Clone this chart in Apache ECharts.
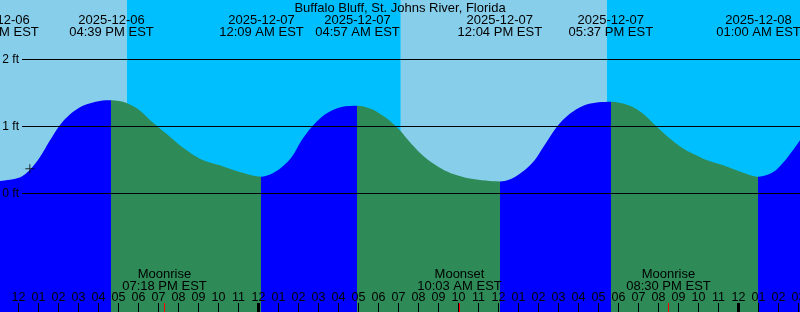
<!DOCTYPE html>
<html><head><meta charset="utf-8">
<script src="https://cdn.jsdelivr.net/npm/echarts@6/dist/echarts.min.js"></script>
<style>html,body{margin:0;padding:0;background:#fff}#c{width:800px;height:312px}</style>
</head><body><div id="c"></div>
<script>
const chartTitle = 'Buffalo Bluff, St. Johns River, Florida';

const tideTimes = [
  '2025-12-06 10:54','2025-12-06 12:04','2025-12-06 12:34','2025-12-06 13:04','2025-12-06 13:34',
  '2025-12-06 14:04','2025-12-06 14:34','2025-12-06 15:13','2025-12-06 16:04','2025-12-06 16:39',
  '2025-12-06 17:24','2025-12-06 18:04','2025-12-06 18:43','2025-12-06 19:24','2025-12-06 20:04',
  '2025-12-06 21:04','2025-12-06 22:04','2025-12-06 23:04','2025-12-07 00:09','2025-12-07 00:59',
  '2025-12-07 01:39','2025-12-07 02:09','2025-12-07 02:39','2025-12-07 03:19','2025-12-07 04:09',
  '2025-12-07 04:57','2025-12-07 05:39','2025-12-07 06:19','2025-12-07 06:59','2025-12-07 07:39',
  '2025-12-07 08:19','2025-12-07 08:59','2025-12-07 09:39','2025-12-07 10:39','2025-12-07 12:04',
  '2025-12-07 12:39','2025-12-07 13:19','2025-12-07 13:49','2025-12-07 14:14','2025-12-07 14:54',
  '2025-12-07 15:34','2025-12-07 16:24','2025-12-07 17:37','2025-12-07 18:34','2025-12-07 19:14',
  '2025-12-07 19:54','2025-12-07 20:34','2025-12-07 21:14','2025-12-07 22:14','2025-12-07 23:14',
  '2025-12-08 00:14','2025-12-08 01:00','2025-12-08 01:44','2025-12-08 02:24','2025-12-08 03:04',
  '2025-12-08 03:34'
];
const tideFeet = [
  0.18,0.24,0.35,0.54,0.79,
  1.02,1.18,1.31,1.38,1.39,
  1.35,1.24,1.06,0.89,0.72,
  0.52,0.42,0.32,0.25,0.35,
  0.54,0.79,0.99,1.18,1.29,
  1.31,1.26,1.14,0.97,0.74,
  0.54,0.40,0.30,0.22,0.18,
  0.22,0.35,0.50,0.69,0.99,
  1.19,1.33,1.37,1.31,1.19,
  1.00,0.82,0.67,0.52,0.42,
  0.31,0.25,0.32,0.52,0.79,
  1.00
];

// High / low tide events
const eventTimes = ['2025-12-06 10:54','2025-12-06 16:39','2025-12-07 00:09','2025-12-07 04:57','2025-12-07 12:04','2025-12-07 17:37','2025-12-08 01:00'];
const eventDates = ['2025-12-06','2025-12-06','2025-12-07','2025-12-07','2025-12-07','2025-12-07','2025-12-08'];
const eventClock = ['10:54 AM EST','04:39 PM EST','12:09 AM EST','04:57 AM EST','12:04 PM EST','05:37 PM EST','01:00 AM EST'];

// Sun: sunset, sunrise, sunset
const sunTimes = ['2025-12-06 17:25','2025-12-07 07:07','2025-12-07 17:25'];

// Moon events
const moonTimes = ['2025-12-06 19:18','2025-12-07 10:03','2025-12-07 20:30'];
const moonNames = ['Moonrise','Moonset','Moonrise'];
const moonClock = ['07:18 PM EST','10:03 AM EST','08:30 PM EST'];

const midnights = ['2025-12-07 00:00','2025-12-08 00:00'];
const nowTime = '2025-12-06 12:34';
const nowFeet = 0.37;
const yTicks = [0, 1, 2];

const axisStart = '2025-12-06 11:04:30';
const axisEnd = '2025-12-08 03:04:30';

const toMs = s => new Date(s.replace(' ', 'T')).getTime();
const xMin = toMs(axisStart), xMax = toMs(axisEnd);
const yMin = -118.5 / 67, yMax = 193.5 / 67;

const hourTicks = [];
for (let t = toMs('2025-12-06 12:00'); t <= xMax; t += 3600000) hourTicks.push(t);
const hh = v => { const h = new Date(v).getHours() % 12 || 12; return (h < 10 ? '0' : '') + h; };

const FONT = 'Liberation Sans, Arial, sans-serif';
const DAY = '#87CEEB', NIGHT = '#00BFFF', RISE = '#0000FF', FALL = '#2E8B57';

const evMs = eventTimes.map(toMs);
const tideData = tideTimes.map((t, i) => [toMs(t), tideFeet[i]]);
const feetAt = ms => tideFeet[tideTimes.map(toMs).indexOf(ms)];

// rising (blue) / falling (green) pieces between successive high/low events
const pieces = [{ lt: evMs[0], color: FALL }];
for (let i = 0; i < evMs.length; i++) {
  const next = evMs[i + 1];
  let rising;
  if (next !== undefined) rising = feetAt(next) > feetAt(evMs[i]);
  else rising = feetAt(evMs[i]) < feetAt(evMs[i - 1]);
  const p = { gte: evMs[i], color: rising ? RISE : FALL };
  if (next !== undefined) p.lt = next;
  pieces.push(p);
}

const sMs = sunTimes.map(toMs);
const bands = [
  [xMin, sMs[0], DAY], [sMs[0], sMs[1], NIGHT], [sMs[1], sMs[2], DAY], [sMs[2], xMax, NIGHT]
].map(b => [{ xAxis: b[0], itemStyle: { color: b[2], opacity: 1 } }, { xAxis: b[1] }]);

const labelPoints = eventTimes.map((t, i) => ({
  name: eventDates[i] + '\n' + eventClock[i], coord: [toMs(t), 0], y: 26.5
})).concat(moonTimes.map((t, i) => ({
  name: moonNames[i] + '\n' + moonClock[i], coord: [toMs(t), 0], y: 280.5
})));

const gridBase = { left: 0, right: 0, top: 0, bottom: 0, containLabel: false, outerBoundsMode: 'none' };
const hiddenY = gi => ({ gridIndex: gi, type: 'value', min: yMin, max: yMax, show: false });
const noZeroLine = { show: false, onZero: false };

const option = {
  animation: false,
  backgroundColor: '#fff',
  textStyle: { fontFamily: FONT },
  title: { text: chartTitle, left: 'center', top: 1, padding: 0,
    textStyle: { fontSize: 13, fontWeight: 'normal', color: '#000', fontFamily: FONT, lineHeight: 14 } },
  visualMap: {
    type: 'piecewise', show: false, dimension: 0, seriesIndex: 1, pieces: pieces
  },
  grid: [
    Object.assign({}, gridBase),
    Object.assign({}, gridBase, { left: 22 }),
    Object.assign({}, gridBase),
    Object.assign({}, gridBase)
  ],
  xAxis: [
    { gridIndex: 0, type: 'value', position: 'bottom', min: xMin, max: xMax, z: 10,
      axisLine: noZeroLine, splitLine: { show: false },
      axisTick: { show: true, inside: true, length: 9, customValues: hourTicks, lineStyle: { color: '#000', width: 1 } },
      axisLabel: { show: true, inside: true, margin: 8, customValues: hourTicks, formatter: hh,
        color: '#000', fontSize: 12.5, fontFamily: FONT, hideOverlap: false } },
    { gridIndex: 1, type: 'value', min: 0, max: 1, show: false, axisLine: noZeroLine },
    { gridIndex: 2, type: 'value', position: 'bottom', min: xMin, max: xMax, z: 11,
      axisLine: noZeroLine, splitLine: { show: false }, axisLabel: { show: false },
      axisTick: { show: true, inside: true, length: 9, customValues: midnights.map(toMs), lineStyle: { color: '#000', width: 3 } } },
    { gridIndex: 3, type: 'value', position: 'bottom', min: xMin, max: xMax, z: 12,
      axisLine: noZeroLine, splitLine: { show: false }, axisLabel: { show: false },
      axisTick: { show: true, inside: true, length: 9, customValues: moonTimes.map(toMs), lineStyle: { color: '#FF0000', width: 1 } } }
  ],
  yAxis: [
    hiddenY(0),
    { gridIndex: 1, type: 'value', min: yMin, max: yMax, z: 10,
      axisLine: noZeroLine, axisTick: { show: false }, splitLine: { show: false },
      axisLabel: { show: true, customValues: yTicks, formatter: '{value} ft', margin: 3,
        color: '#000', fontSize: 12, fontFamily: FONT } },
    hiddenY(2),
    hiddenY(3)
  ],
  series: [
    { type: 'line', xAxisIndex: 0, yAxisIndex: 0, z: 0, data: [], silent: true,
      markArea: { silent: true, data: bands } },
    { type: 'line', name: 'Tide', xAxisIndex: 0, yAxisIndex: 0, z: 2,
      data: tideData, smooth: 0.3, symbol: 'none', silent: true,
      lineStyle: { width: 0 },
      areaStyle: { opacity: 1, origin: 'start' } },
    { type: 'line', xAxisIndex: 1, yAxisIndex: 1, z: 4, data: [], silent: true,
      markLine: { silent: true, symbol: ['none', 'none'], label: { show: false },
        lineStyle: { color: '#000', width: 1, type: 'solid' },
        data: yTicks.map(v => ({ yAxis: v })) } },
    { type: 'scatter', xAxisIndex: 0, yAxisIndex: 0, z: 6, silent: true,
      data: [[toMs(nowTime), nowFeet]],
      symbol: 'path://M4,0h1v4h4v1h-4v4h-1v-4h-4v-1h4z', symbolSize: 9,
      itemStyle: { color: '#000' } },
    { type: 'scatter', xAxisIndex: 0, yAxisIndex: 0, z: 7, data: [], silent: true,
      markPoint: { silent: true, symbol: 'circle', symbolSize: 0,
        label: { show: true, position: 'inside', formatter: '{b}', color: '#000', fontSize: 13,
          lineHeight: 12, fontFamily: FONT, align: 'center', verticalAlign: 'middle' },
        data: labelPoints } }
  ]
};

const chart = echarts.init(document.getElementById('c'), null, { renderer: 'canvas' });
chart.setOption(option);
</script>
</body></html>
